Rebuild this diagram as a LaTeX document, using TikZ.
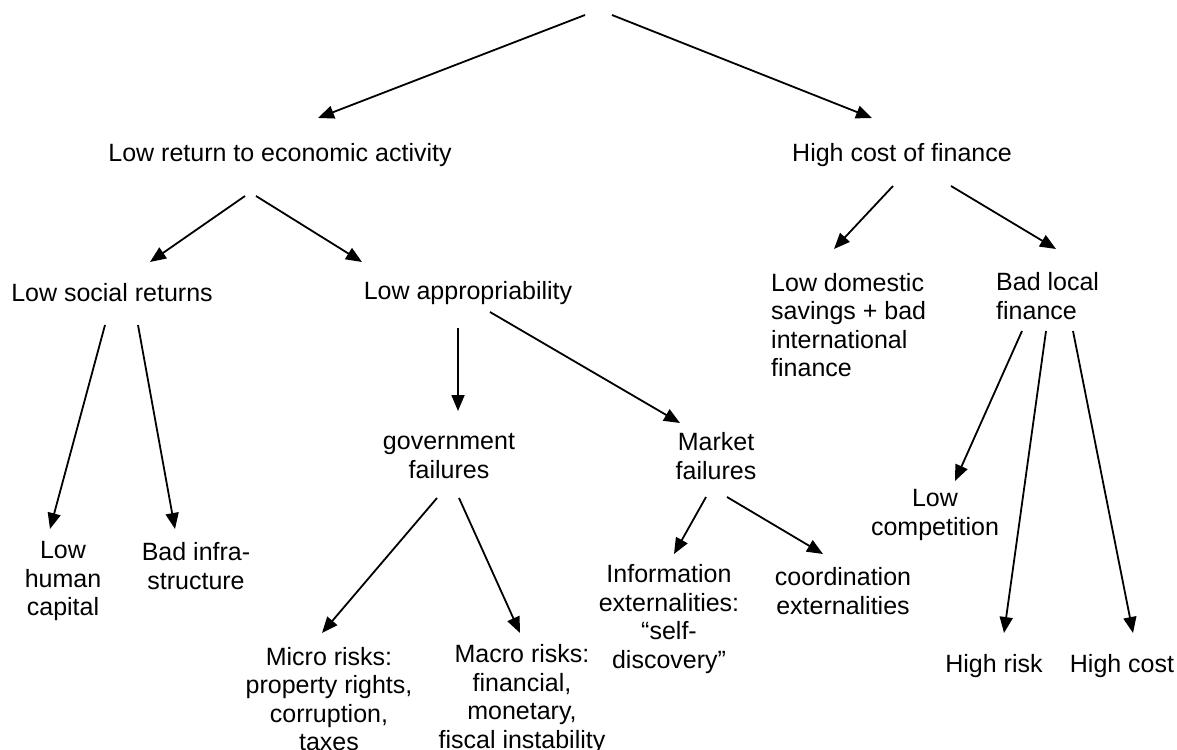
\documentclass[tikz,border=0pt]{standalone}
\usepackage{fontspec}
\setmainfont{Liberation Sans}
\usepackage{tikz}
\usetikzlibrary{arrows.meta}
\tikzset{box/.style={align=center,inner sep=0pt,font=\fontsize{25}{28.5}\selectfont},
  arr/.style={line width=1.8pt,-{Triangle[length=16pt,width=13pt]}}}

\begin{document}
\begin{tikzpicture}[x=1pt,y=-1pt]
      \useasboundingbox (0,0) rectangle (1177,749);
      \coordinate (top) at (598,15);

      \node[box] (lowret) at (280,155) {Low return to economic activity};
      \node[box] (highcost) at (902,155) {High cost of finance};
      \node[box] (lowsoc) at (112,293) {Low social returns};
      \node[box] (lowapp) at (468,293) {Low appropriability};
      \node[box] (humcap) at (63,581) {Low\\human\\capital};
      \node[box] (infra) at (196,566) {Bad infra-\\structure};
      \node[box] (govfail) at (449,456) {government\\failures};
      \node[box] (mktfail) at (716,456) {Market\\failures};
      \node[box] (micro) at (329,699) {Micro risks:\\property rights,\\corruption,\\taxes};
      \node[box] (macro) at (522,699) {Macro risks:\\financial,\\monetary,\\fiscal instability};
      \node[box] (info) at (669,619) {Information\\externalities:\\``self-\\discovery''};
      \node[box] (coord) at (843,591) {coordination\\externalities};
      \node[box,align=left,anchor=west] (savings) at (771,325) {Low domestic\\savings + bad\\international\\finance};
      \node[box,align=left,anchor=west] (badloc) at (996,296) {Bad local\\finance};
      \node[box] (lowcomp) at (935,515) {Low\\competition};
      \node[box] (highrisk) at (994,666) {High risk};
      \node[box] (highcst) at (1122,666) {High cost};

      \draw[arr] ([xshift=-13pt]top) -- ([shift={(38,-37)}]lowret.center);
      \draw[arr] ([xshift=14pt]top) -- ([shift={(-30,-37)}]highcost.center);
      \draw[arr] ([shift={(-35,41)}]lowret.center) -- ([shift={(38,-31)}]lowsoc.center);
      \draw[arr] ([shift={(-24,41)}]lowret.center) -- ([shift={(-106,-31)}]lowapp.center);
      \draw[arr] ([shift={(-7,32)}]lowsoc.center) -- ([shift={(-13,-52)}]humcap.center);
      \draw[arr] ([shift={(26,32)}]lowsoc.center) -- ([shift={(-21,-37)}]infra.center);
      \draw[arr] ([shift={(-10,35)}]lowapp.center) -- ([shift={(9,-45)}]govfail.center);
      \draw[arr] ([shift={(22,19)}]lowapp.center) -- ([shift={(-36,-33)}]mktfail.center);
      \draw[arr] ([shift={(-12,42)}]govfail.center) -- ([shift={(-7,-66)}]micro.center);
      \draw[arr] ([shift={(10,42)}]govfail.center) -- ([shift={(-2,-66)}]macro.center);
      \draw[arr] ([shift={(-10,41)}]mktfail.center) -- ([shift={(5,-65)}]info.center);
      \draw[arr] ([shift={(11,41)}]mktfail.center) -- ([shift={(-20,-37)}]coord.center);
      \draw[arr] ([shift={(-9,31)}]highcost.center) -- ([shift={(63,-76)}]savings.west);
      \draw[arr] ([shift={(49,31)}]highcost.center) -- ([shift={(60,-47)}]badloc.west);
      \draw[arr] ([shift={(26,35)}]badloc.west) -- ([shift={(20,-34)}]lowcomp.center);
      \draw[arr] ([shift={(50,35)}]badloc.west) -- ([shift={(10,-33)}]highrisk.center);
      \draw[arr] ([shift={(77,35)}]badloc.west) -- ([shift={(11,-33)}]highcst.center);
  \end{tikzpicture}
\end{document}
